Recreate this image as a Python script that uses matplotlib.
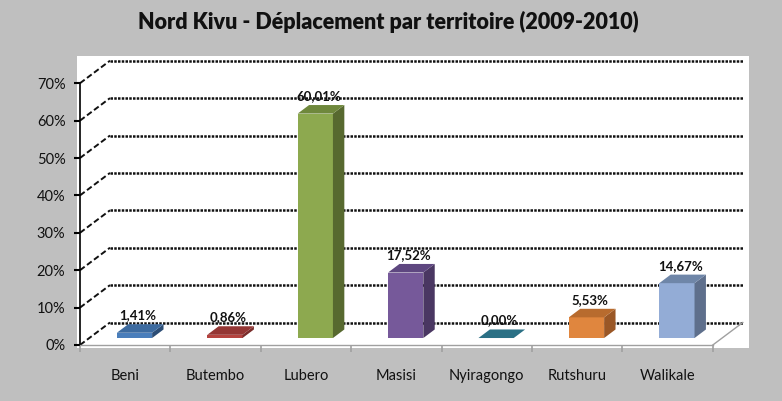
import matplotlib
matplotlib.use("Agg")
import matplotlib.pyplot as plt
from matplotlib.patches import Polygon, Rectangle

categories = ["Beni", "Butembo", "Lubero", "Masisi", "Nyiragongo", "Rutshuru", "Walikale"]
values = [1.41, 0.86, 60.01, 17.52, 0.00, 5.53, 14.67]
value_labels = ["1,41%", "0,86%", "60,01%", "17,52%", "0,00%", "5,53%", "14,67%"]
y_ticks = [0, 10, 20, 30, 40, 50, 60, 70]
y_tick_labels = ["0%", "10%", "20%", "30%", "40%", "50%", "60%", "70%"]
title = "Nord Kivu - Déplacement par territoire (2009-2010)"

front_colors = ["#4A7EBB", "#B5433F", "#8DA94F", "#76599A", "#31849B", "#E0863E", "#93ACD6"]
top_colors = ["#3D6BA0", "#943634", "#6F883C", "#5E4780", "#2B7085", "#B86B2E", "#6F86A8"]
side_colors = ["#2C4D75", "#7A2D2B", "#57692F", "#4A3762", "#215868", "#9A5726", "#5E6F8C"]

plt.rcParams['font.family'] = ['Lato', 'DejaVu Sans']

W, H = 782, 401
fig = plt.figure(figsize=(W / 100, H / 100), dpi=100)
fig.patch.set_facecolor("#BFBFBF")

# axes: front plane x 0..7 at px 80..713, y 0..70 at px 345..83
px_x = 90.4
px_y = 3.74
x_left, x_right = 80, 749
y_bottom, y_top = 345, 56
ax = fig.add_axes([x_left / W, 1 - y_bottom / H, (x_right - x_left) / W, (y_bottom - y_top) / H])
ax.set_facecolor("none")
ax.set_xlim(0, (x_right - x_left) / px_x)
ax.set_ylim(0, (y_bottom - y_top) / px_y)

# white plot area
ax.add_patch(Rectangle((77 / W, 1 - 348 / H), (749 - 77) / W, (348 - 56) / H,
                       transform=fig.transFigure, facecolor="white", edgecolor="none",
                       zorder=0, clip_on=False))

dx = 30 / px_x
dy = 22.5 / px_y
n = len(categories)

# gridlines: left wall diagonals + back wall horizontals
for t in y_ticks:
    ax.plot([0, dx], [t, t + dy], color="#111111", lw=1.4, ls=(0, (3, 1.5)), zorder=1, clip_on=False)
    ax.plot([dx, n + dx], [t + dy, t + dy], color="#111111", lw=1.8,
            ls=(0, (1, 0.5)), zorder=1, clip_on=False)
# floor right edge
ax.plot([n, n + dx], [0, dy], color="#A0A0A0", lw=1.0, zorder=1)

# bars
f0 = 0.31
d = 0.38
bw = 0.39
for i, v in enumerate(values):
    cx = i + 0.5 + f0 * dx
    xl, xr = cx - bw / 2, cx + bw / 2
    b = f0 * dy
    t = b + v
    ox, oy = d * dx, d * dy
    if v > 0:
        ax.add_patch(Rectangle((xl, b), bw, v, facecolor=front_colors[i], edgecolor="none", zorder=3))
        ax.add_patch(Polygon([(xr, b), (xr + ox, b + oy), (xr + ox, t + oy), (xr, t)],
                             closed=True, facecolor=side_colors[i], edgecolor="none", zorder=3))
    ax.add_patch(Polygon([(xl, t), (xr, t), (xr + ox, t + oy), (xl + ox, t + oy)],
                         closed=True, facecolor=top_colors[i], edgecolor="none", zorder=3))
    ax.annotate(value_labels[i], xy=(cx + 0.035, t + oy), xytext=(0, 3), textcoords="offset pixels",
                ha="center", va="bottom", fontsize=9.5, fontweight="bold", color="#111111", zorder=4)

# axes styling
for s in ["top", "right"]:
    ax.spines[s].set_visible(False)
ax.spines["left"].set_bounds(0, 70)
ax.spines["left"].set_color("black")
ax.spines["left"].set_linewidth(1.2)
ax.spines["bottom"].set_bounds(0, n)
ax.spines["bottom"].set_color("#A0A0A0")
ax.spines["bottom"].set_linewidth(1.0)
ax.spines["left"].set_zorder(2)
ax.spines["bottom"].set_zorder(2)

ax.set_yticks(y_ticks)
ax.set_yticklabels(y_tick_labels, fontsize=10.5, color="#111111")
ax.tick_params(axis="y", direction="out", length=4.5, width=1.5, color="black", pad=6)

ax.set_xticks(range(n + 1))
ax.set_xticklabels([""] * (n + 1))
ax.tick_params(axis="x", which="major", direction="out", length=5, width=1.2, color="#A0A0A0")
ax.set_xticks([i + 0.5 for i in range(n)], minor=True)
ax.set_xticklabels(categories, minor=True, fontsize=10.5, color="#111111")
ax.tick_params(axis="x", which="minor", length=0, pad=17)

fig.text(388 / W, 1 - 22 / H, title, ha="center", va="center", fontsize=15.5, fontweight="heavy", color="#111111")

fig.savefig("out.png", dpi=100, facecolor=fig.get_facecolor())
